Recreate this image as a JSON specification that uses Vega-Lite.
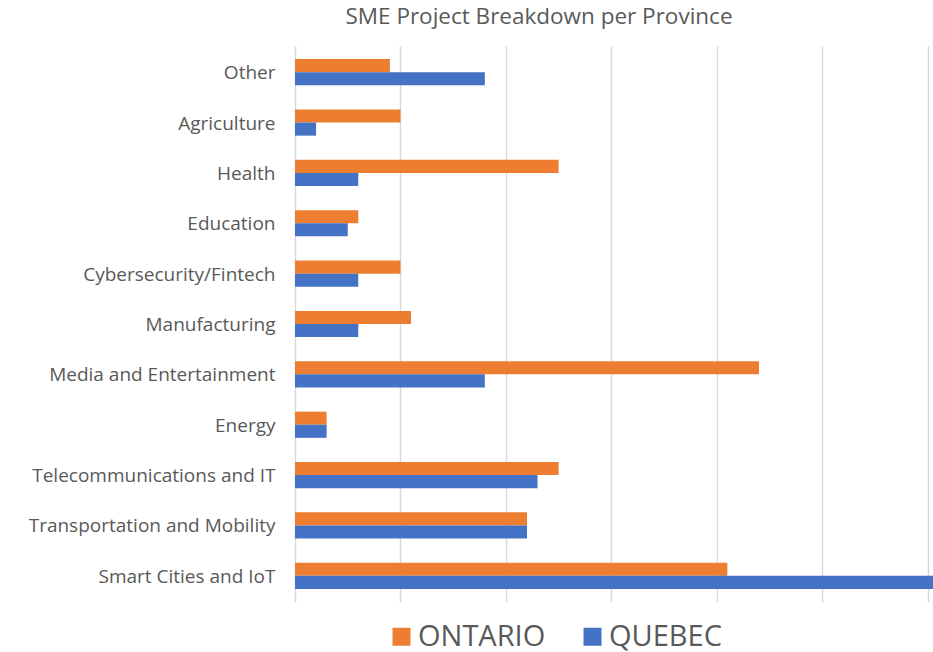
{
  "$schema": "https://vega.github.io/schema/vega-lite/v6.json",
  "autosize": {"type": "none"},
  "padding": {"left": 295, "top": 46, "right": 0, "bottom": 51},
  "width": 638,
  "height": 556,
  "background": "white",
  "title": {
    "text": "SME Project Breakdown per Province",
    "anchor": "middle",
    "dx": -75,
    "offset": 18,
    "font": "Open Sans",
    "fontSize": 22.5,
    "fontWeight": "normal",
    "color": "#595959"
  },
  "data": {
    "values": [
      {"sector": "Other", "province": "ONTARIO", "projects": 9},
      {"sector": "Other", "province": "QUEBEC", "projects": 18},
      {"sector": "Agriculture", "province": "ONTARIO", "projects": 10},
      {"sector": "Agriculture", "province": "QUEBEC", "projects": 2},
      {"sector": "Health", "province": "ONTARIO", "projects": 25},
      {"sector": "Health", "province": "QUEBEC", "projects": 6},
      {"sector": "Education", "province": "ONTARIO", "projects": 6},
      {"sector": "Education", "province": "QUEBEC", "projects": 5},
      {"sector": "Cybersecurity/Fintech", "province": "ONTARIO", "projects": 10},
      {"sector": "Cybersecurity/Fintech", "province": "QUEBEC", "projects": 6},
      {"sector": "Manufacturing", "province": "ONTARIO", "projects": 11},
      {"sector": "Manufacturing", "province": "QUEBEC", "projects": 6},
      {"sector": "Media and Entertainment", "province": "ONTARIO", "projects": 44},
      {"sector": "Media and Entertainment", "province": "QUEBEC", "projects": 18},
      {"sector": "Energy", "province": "ONTARIO", "projects": 3},
      {"sector": "Energy", "province": "QUEBEC", "projects": 3},
      {"sector": "Telecommunications and IT", "province": "ONTARIO", "projects": 25},
      {"sector": "Telecommunications and IT", "province": "QUEBEC", "projects": 23},
      {"sector": "Transportation and Mobility", "province": "ONTARIO", "projects": 22},
      {"sector": "Transportation and Mobility", "province": "QUEBEC", "projects": 22},
      {"sector": "Smart Cities and IoT", "province": "ONTARIO", "projects": 41},
      {"sector": "Smart Cities and IoT", "province": "QUEBEC", "projects": 62}
    ]
  },
  "mark": {"type": "bar", "clip": true},
  "encoding": {
    "y": {
      "field": "sector",
      "type": "nominal",
      "sort": null,
      "title": null,
      "scale": {"paddingInner": 0.48, "paddingOuter": 0.26},
      "axis": {
        "domain": false,
        "ticks": false,
        "labelPadding": 20,
        "labelFont": "Open Sans",
        "labelFontSize": 19,
        "labelColor": "#595959",
        "labelLimit": 300,
        "labelOffset": 1
      }
    },
    "yOffset": {"field": "province", "type": "nominal", "sort": ["ONTARIO", "QUEBEC"]},
    "x": {
      "field": "projects",
      "type": "quantitative",
      "title": null,
      "scale": {"domain": [0, 60.5], "nice": false, "zero": true},
      "axis": {
        "values": [0, 10, 20, 30, 40, 50, 60],
        "labels": false,
        "ticks": false,
        "domain": false,
        "grid": true,
        "gridColor": "#d9d9d9",
        "gridWidth": 1.5
      }
    },
    "color": {
      "field": "province",
      "type": "nominal",
      "sort": ["ONTARIO", "QUEBEC"],
      "scale": {"domain": ["ONTARIO", "QUEBEC"], "range": ["#ED7D31", "#4472C4"]},
      "legend": {
        "title": null,
        "orient": "none",
        "direction": "horizontal",
        "legendX": 92,
        "legendY": 576,
        "symbolType": "square",
        "symbolSize": 324,
        "symbolStrokeWidth": 0,
        "labelFont": "Open Sans",
        "labelFontSize": 29,
        "labelColor": "#595959",
        "columnPadding": 32,
        "labelOffset": 2
      }
    }
  },
  "config": {"view": {"stroke": null}}
}
